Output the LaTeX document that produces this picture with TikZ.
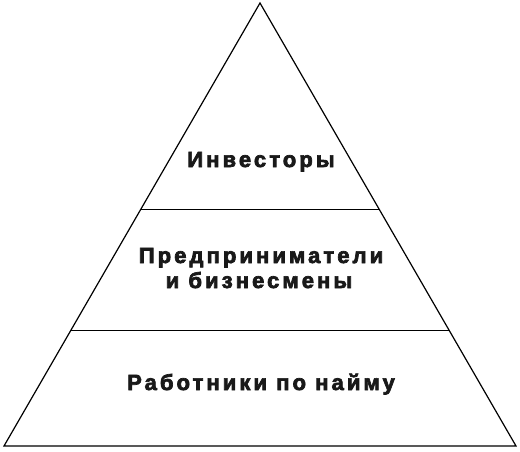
\documentclass[tikz,border=0pt]{standalone}
\usepackage{fontspec}
\setmainfont{Liberation Sans}
\newfontfamily\tierfont[LetterSpace=14,UprightFont=* Bold]{Liberation Sans}
\newcommand{\heavy}[1]{\special{pdf:code 2 Tr 0.7 w}#1\special{pdf:code 0 Tr}}
\usetikzlibrary{calc}
\begin{document}
\begin{tikzpicture}[x=1pt,y=1pt,
  tier/.style={font=\tierfont\fontsize{22}{25}\selectfont,text=black!90,anchor=base,inner sep=0pt}]
  \useasboundingbox (0,0) rectangle (520,451);
  % pyramid outline
  \coordinate (top) at (260,448);
  \coordinate (bl) at (4,5);
  \coordinate (br) at (516,5);
  \draw[line width=1.2pt] (bl) -- (top) -- (br) -- cycle;
  % tier borders
  \coordinate (u1) at ($(bl)!0.535!(top)$);
  \coordinate (u2) at ($(br)!0.535!(top)$);
  \coordinate (l1) at ($(bl)!0.262!(top)$);
  \coordinate (l2) at ($(br)!0.262!(top)$);
  \draw (u1) -- (u2);
  \draw (l1) -- (l2);
  % labels
  \node[tier] (inv) at (261,284) {\heavy{Инвесторы}};
  \node[tier] (ent1) at (261,188) {\heavy{Предприниматели}};
  \node[tier] (ent2) at (259,163) {\heavy{и бизнесмены}};
  \node[tier] (emp) at (261,61) {\heavy{Работники по найму}};
\end{tikzpicture}
\end{document}
